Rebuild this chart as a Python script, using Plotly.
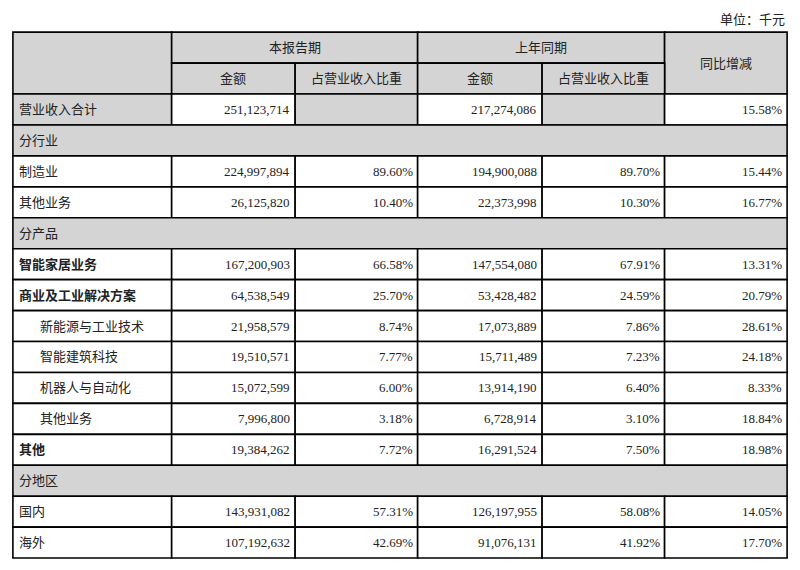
import plotly.graph_objects as go

row_labels = ["营业收入合计", "分行业", "制造业", "其他业务", "分产品", "智能家居业务",
              "商业及工业解决方案", "新能源与工业技术", "智能建筑科技", "机器人与自动化",
              "其他业务", "其他", "分地区", "国内", "海外"]
row_kind = ["total", "section", "", "", "section", "bold", "bold", "sub", "sub", "sub",
            "sub", "bold", "section", "", ""]
cur_amount = ["251,123,714", "", "224,997,894", "26,125,820", "", "167,200,903", "64,538,549",
              "21,958,579", "19,510,571", "15,072,599", "7,996,800", "19,384,262", "",
              "143,931,082", "107,192,632"]
cur_share = ["", "", "89.60%", "10.40%", "", "66.58%", "25.70%", "8.74%", "7.77%", "6.00%",
             "3.18%", "7.72%", "", "57.31%", "42.69%"]
prev_amount = ["217,274,086", "", "194,900,088", "22,373,998", "", "147,554,080", "53,428,482",
               "17,073,889", "15,711,489", "13,914,190", "6,728,914", "16,291,524", "",
               "126,197,955", "91,076,131"]
prev_share = ["", "", "89.70%", "10.30%", "", "67.91%", "24.59%", "7.86%", "7.23%", "6.40%",
              "3.10%", "7.50%", "", "58.08%", "41.92%"]
yoy = ["15.58%", "", "15.44%", "16.77%", "", "13.31%", "20.79%", "28.61%", "24.18%", "8.33%",
       "18.84%", "18.98%", "", "14.05%", "17.70%"]

col_x = [5, 167, 293, 418, 545, 670, 795]
top, mid, head_bot, row_h = 25, 57, 89, 32
GRAY = "#d4d4d4"
FONT = "Liberation Serif, Noto Sans CJK SC"

shapes, ann = [], []

def cell(x0, x1, y0, y1, fill):
    shapes.append(dict(type="rect", x0=x0, x1=x1, y0=y0, y1=y1, fillcolor=fill,
                       line=dict(color="black", width=1.6), layer="above"))

def text(x, y, s, anchor="center", bold=False, size=13):
    ann.append(dict(x=x, y=y, text=f"<b>{s}</b>" if bold else s, showarrow=False,
                    xanchor=anchor, yanchor="middle", font=dict(size=size, family=FONT, color="#222")))

# header
cell(col_x[0], col_x[1], top, head_bot, GRAY)
cell(col_x[1], col_x[3], top, mid, GRAY)
cell(col_x[3], col_x[5], top, mid, GRAY)
cell(col_x[5], col_x[6], top, head_bot, GRAY)
for i in range(1, 5):
    cell(col_x[i], col_x[i + 1], mid, head_bot, GRAY)
text((col_x[1] + col_x[3]) / 2, (top + mid) / 2, "本报告期")
text((col_x[3] + col_x[5]) / 2, (top + mid) / 2, "上年同期")
text((col_x[5] + col_x[6]) / 2, (top + head_bot) / 2, "同比增减")
for i, s in zip(range(1, 5), ["金额", "占营业收入比重", "金额", "占营业收入比重"]):
    text((col_x[i] + col_x[i + 1]) / 2, (mid + head_bot) / 2, s)
ann.append(dict(x=col_x[6], y=12, text="单位：千元", showarrow=False, xanchor="right",
                font=dict(size=13, family=FONT, color="#222")))

for r, label in enumerate(row_labels):
    y0 = head_bot + r * row_h
    y1 = y0 + row_h
    yc = (y0 + y1) / 2
    kind = row_kind[r]
    if kind == "section":
        cell(col_x[0], col_x[6], y0, y1, GRAY)
        text(col_x[0] + 4, yc, label, "left")
        continue
    vals = [cur_amount[r], cur_share[r], prev_amount[r], prev_share[r], yoy[r]]
    cell(col_x[0], col_x[1], y0, y1, GRAY if kind == "total" else "white")
    for i, v in enumerate(vals):
        fill = GRAY if (kind == "total" and v == "") else "white"
        cell(col_x[i + 1], col_x[i + 2], y0, y1, fill)
        if v:
            text(col_x[i + 2] - 3, yc, v, "right")
    indent = 26 if kind == "sub" else 4
    text(col_x[0] + indent, yc, label, "left", bold=(kind == "bold"))

fig = go.Figure()
fig.update_layout(
    width=784, height=552, margin=dict(l=0, r=0, t=0, b=0),
    plot_bgcolor="white", paper_bgcolor="white",
    xaxis=dict(range=[0, 800], visible=False, fixedrange=True),
    yaxis=dict(range=[571, 0], visible=False, fixedrange=True),
    shapes=shapes, annotations=ann, showlegend=False,
)
fig.write_html("out.html")
